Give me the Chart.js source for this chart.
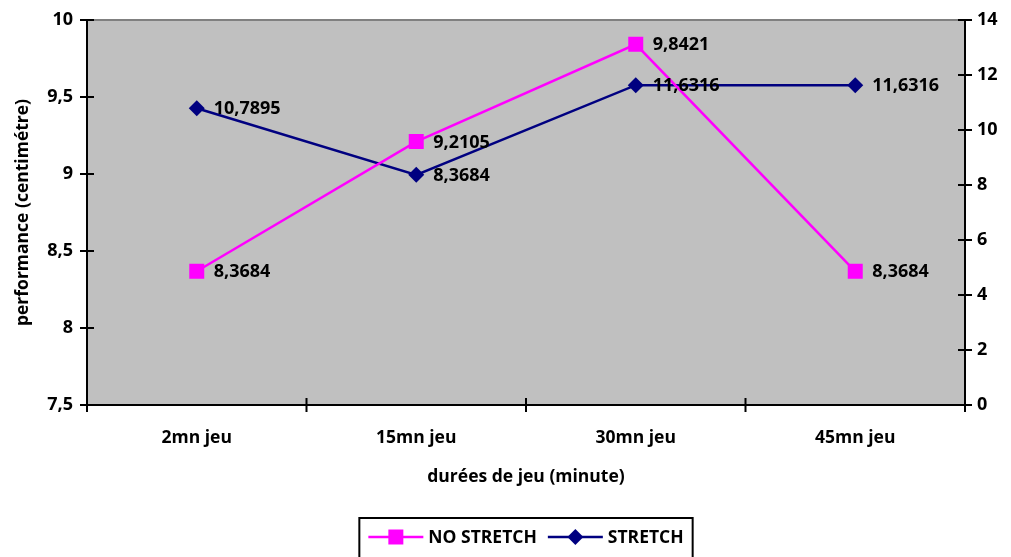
<!DOCTYPE html>
<html>
<head>
<meta charset="utf-8">
<script src="https://cdn.jsdelivr.net/npm/chart.js@4/dist/chart.umd.min.js"></script>
<style>
  html, body { margin: 0; padding: 0; background: #ffffff; }
  #wrap { width: 1011px; height: 557px; }
</style>
</head>
<body>
<div id="wrap"><canvas id="c" width="1011" height="557"></canvas></div>
<script>
// Game durations on the x axis
const categories = ['2mn jeu', '15mn jeu', '30mn jeu', '45mn jeu'];
// Series values (NO STRETCH on the left axis, STRETCH on the right axis)
const noStretch = [8.3684, 9.2105, 9.8421, 8.3684];
const stretch = [10.7895, 8.3684, 11.6316, 11.6316];
const seriesNames = ['NO STRETCH', 'STRETCH'];
// Axis ranges and titles
const leftRange = [7.5, 10, 0.5];
const rightRange = [0, 14, 2];
const leftTitle = 'performance (centimétre)';
const bottomTitle = 'durées de jeu (minute)';

const FONT = '"Open Sans", Lato, sans-serif';
const fmt = v => String(v).replace('.', ',');

const framePlugin = {
  id: 'frame',
  beforeDraw(chart) {
    const { ctx, chartArea: a } = chart;
    ctx.save();
    ctx.fillStyle = '#c0c0c0';
    ctx.fillRect(a.left, a.top, a.right - a.left, a.bottom - a.top);
    ctx.strokeStyle = '#808080';
    ctx.lineWidth = 2;
    ctx.beginPath();
    ctx.moveTo(a.left, a.top);
    ctx.lineTo(a.right, a.top);
    ctx.stroke();
    ctx.restore();
  },
  afterDatasetsDraw(chart) {
    const { ctx, chartArea: a } = chart;
    const tl = 7;
    ctx.save();
    ctx.strokeStyle = '#000';
    ctx.lineWidth = 2;
    // crossing tick marks on both value axes
    const yl = chart.scales.y, yr = chart.scales.y1, xs = chart.scales.x;
    ctx.beginPath();
    yl.ticks.forEach(t => {
      const py = yl.getPixelForValue(t.value);
      ctx.moveTo(a.left - tl, py); ctx.lineTo(a.left + tl, py);
    });
    yr.ticks.forEach(t => {
      const py = yr.getPixelForValue(t.value);
      ctx.moveTo(a.right - tl, py); ctx.lineTo(a.right + tl, py);
    });
    // category boundaries on the x axis
    const step = (xs.right - xs.left) / categories.length;
    for (let i = 0; i <= categories.length; i++) {
      const px = xs.getPixelForValue(0) - step / 2 + i * step;
      ctx.moveTo(px, a.bottom - tl); ctx.lineTo(px, a.bottom + tl);
    }
    ctx.stroke();

    // value labels to the right of each point
    ctx.fillStyle = '#000';
    ctx.font = 'bold 18px ' + FONT;
    ctx.textAlign = 'left';
    ctx.textBaseline = 'middle';
    chart.data.datasets.forEach((ds, di) => {
      const meta = chart.getDatasetMeta(di);
      meta.data.forEach((pt, i) => {
        ctx.fillText(fmt(ds.data[i]), pt.x + 17, pt.y + 1);
      });
    });
    ctx.restore();
  },
  afterDraw(chart) {
    // boxed legend with line-and-marker swatches
    const { ctx, chartArea: a } = chart;
    const xs = chart.scales.x;
    ctx.save();
    ctx.font = 'bold 17.5px ' + FONT;
    const lineLen = 55, gapText = 5, gapItem = 11, pad = 9;
    const items = chart.data.datasets.map(ds => ({ ds, w: ctx.measureText(ds.label).width }));
    const content = items.reduce((s, it) => s + lineLen + gapText + it.w, 0) + gapItem * (items.length - 1);
    const boxW = content + pad * 2;
    const cx = (a.left + a.right) / 2;
    const top = xs.bottom + 23;
    const boxH = 44;
    ctx.strokeStyle = '#000';
    ctx.lineWidth = 2;
    ctx.strokeRect(cx - boxW / 2, top, boxW, boxH);
    let x = cx - content / 2;
    const cy = top + 19;
    items.forEach(it => {
      const ds = it.ds;
      ctx.strokeStyle = ds.borderColor;
      ctx.lineWidth = ds.borderWidth;
      ctx.beginPath(); ctx.moveTo(x, cy); ctx.lineTo(x + lineLen, cy); ctx.stroke();
      const mx = x + lineLen / 2;
      ctx.fillStyle = ds.pointBackgroundColor;
      ctx.beginPath();
      if (ds.pointStyle === 'rect') {
        const s = ds.pointRadius * Math.SQRT1_2;
        ctx.rect(mx - s, cy - s, 2 * s, 2 * s);
      } else {
        const r = ds.pointRadius;
        ctx.moveTo(mx, cy - r); ctx.lineTo(mx + r, cy); ctx.lineTo(mx, cy + r); ctx.lineTo(mx - r, cy); ctx.closePath();
      }
      ctx.fill();
      ctx.fillStyle = '#000';
      ctx.textAlign = 'left';
      ctx.textBaseline = 'middle';
      ctx.fillText(ds.label, x + lineLen + gapText, cy + 1);
      x += lineLen + gapText + it.w + gapItem;
    });
    ctx.restore();
  }
};

const tickFont = { family: FONT, size: 18, weight: 'bold' };
const labelFont = { family: FONT, size: 17.5, weight: 'bold' };

new Chart(document.getElementById('c'), {
  type: 'line',
  data: {
    labels: categories,
    datasets: [
      {
        label: seriesNames[0],
        data: noStretch,
        yAxisID: 'y',
        borderColor: '#ff00ff',
        backgroundColor: '#ff00ff',
        pointBackgroundColor: '#ff00ff',
        pointBorderColor: '#ff00ff',
        pointStyle: 'rect',
        pointRadius: 10.6,
        pointBorderWidth: 0,
        borderWidth: 2.5,
        tension: 0
      },
      {
        label: seriesNames[1],
        data: stretch,
        yAxisID: 'y1',
        borderColor: '#000080',
        backgroundColor: '#000080',
        pointBackgroundColor: '#000080',
        pointBorderColor: '#000080',
        pointStyle: 'rectRot',
        pointRadius: 8,
        pointBorderWidth: 0,
        borderWidth: 2.5,
        tension: 0
      }
    ]
  },
  options: {
    responsive: false,
    animation: false,
    devicePixelRatio: 1,
    layout: { padding: { top: 20, bottom: 62, left: 0, right: 0 } },
    plugins: { legend: { display: false }, tooltip: { enabled: false } },
    scales: {
      x: {
        offset: true,
        grid: { offset: true, drawOnChartArea: false, color: 'rgba(0,0,0,0)', tickLength: 7 },
        border: { display: true, color: '#000', width: 2 },
        ticks: { color: '#000', font: labelFont, padding: 16, maxRotation: 0 },
        title: { display: true, text: bottomTitle, color: '#000', font: labelFont, padding: { top: 0, bottom: 7 } },
        afterFit(s) { s.height = 90; }
      },
      y: {
        position: 'left',
        min: leftRange[0], max: leftRange[1],
        ticks: { stepSize: leftRange[2], color: '#000', font: tickFont, padding: 7, callback: v => fmt(v) },
        grid: { drawOnChartArea: false, color: 'rgba(0,0,0,0)', tickLength: 7 },
        border: { display: true, color: '#000', width: 2 },
        title: { display: true, text: leftTitle, color: '#000', font: labelFont, padding: { top: 13, bottom: 0 } },
        afterFit(s) { s.width = 87; }
      },
      y1: {
        position: 'right',
        min: rightRange[0], max: rightRange[1],
        ticks: { stepSize: rightRange[2], color: '#000', font: tickFont, padding: 5 },
        grid: { drawOnChartArea: false, color: 'rgba(0,0,0,0)', tickLength: 7 },
        border: { display: true, color: '#000', width: 2 },
        afterFit(s) { s.width = 46; }
      }
    }
  },
  plugins: [framePlugin]
});
</script>
</body>
</html>
